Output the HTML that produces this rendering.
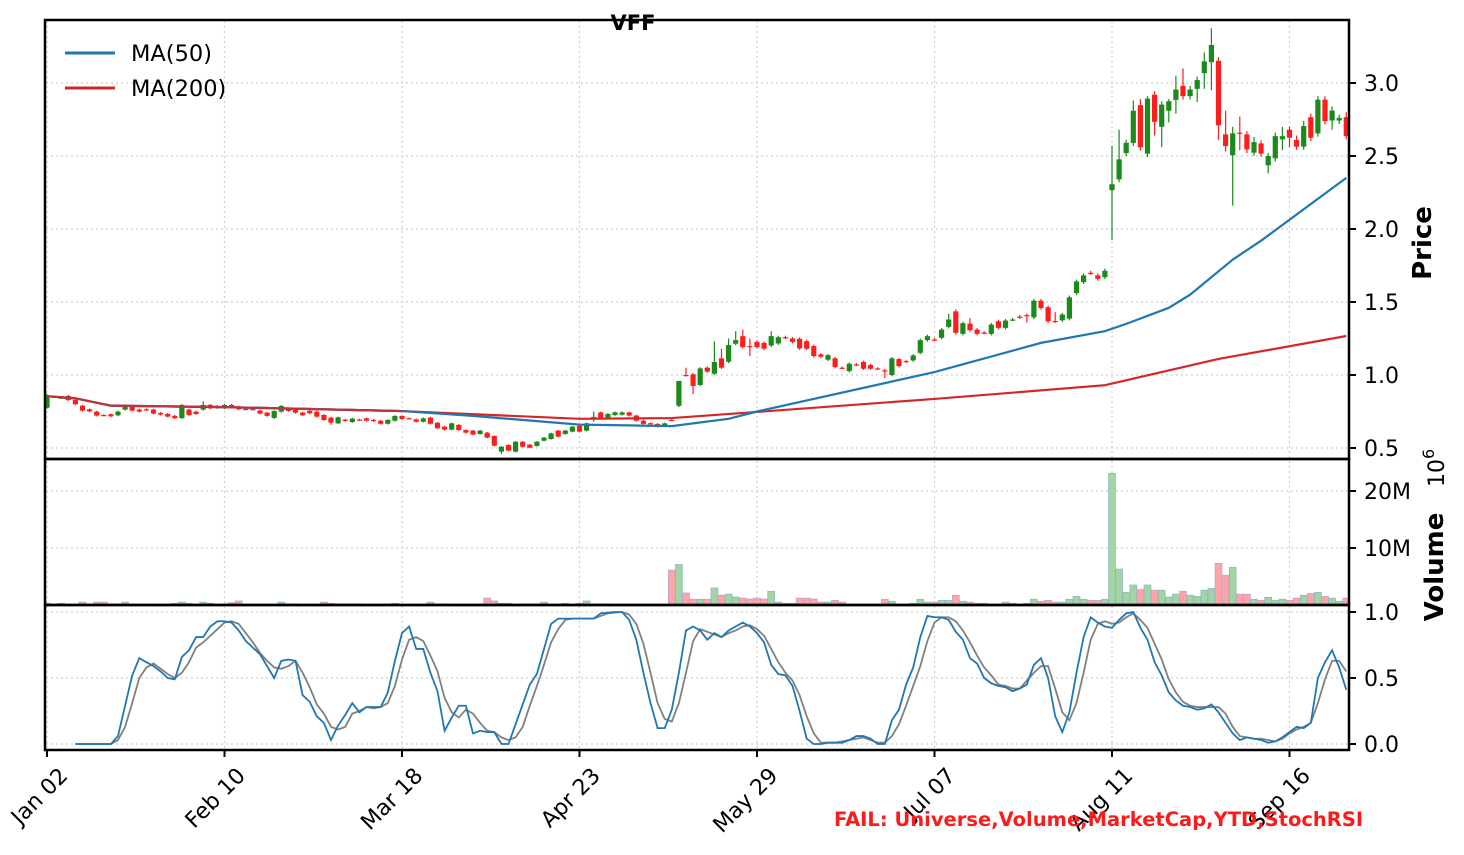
<!DOCTYPE html>
<html><head><meta charset="utf-8"><style>
html,body{margin:0;padding:0;background:#fff;}
svg{display:block;font-family:"DejaVu Sans","Liberation Sans",sans-serif;}
</style></head><body>
<svg id="chart" width="1464" height="855" viewBox="0 0 1464 855" xmlns="http://www.w3.org/2000/svg">
<defs>
<clipPath id="cpMain"><rect x="46" y="21" width="1302" height="437"/></clipPath>
<clipPath id="cpVol"><rect x="46" y="460" width="1302" height="144"/></clipPath>
<clipPath id="cpSto"><rect x="46" y="606" width="1302" height="143"/></clipPath>
</defs>
<g id="grid"></g>
<g id="vol" clip-path="url(#cpVol)"></g>
<g id="candles" clip-path="url(#cpMain)"></g>
<g id="mas" clip-path="url(#cpMain)"></g>
<g id="stoch" clip-path="url(#cpSto)"></g>
<g id="axes"></g>
<text x="633" y="30" text-anchor="middle" font-size="21" font-weight="bold">VFF</text>
<g>
  <line x1="65" y1="53" x2="115" y2="53" stroke="#1f77b4" stroke-width="3"/>
  <text x="131" y="61" font-size="22.5">MA(50)</text>
  <line x1="65" y1="88" x2="115" y2="88" stroke="#d62728" stroke-width="3"/>
  <text x="131" y="96" font-size="22.5">MA(200)</text>
</g>
<text transform="translate(1431,243) rotate(-90)" text-anchor="middle" font-size="26" font-weight="bold">Price</text>
<text transform="translate(1443,567) rotate(-90)" text-anchor="middle" font-size="26" font-weight="bold">Volume</text>
<text transform="translate(1444,487) rotate(-90)" font-size="22">10<tspan dy="-10" font-size="16">6</tspan></text>
<text x="834" y="826" font-size="19.5" font-weight="bold" fill="#ff1a1a">FAIL: Universe,Volume,MarketCap,YTD,StochRSI</text>
</svg>
<script>
const opens = [.776,.850,.843,.857,.829,.790,.765,.749,.726,.731,.724,.763,.786,.763,.765,.763,.740,.733,.720,.704,.763,.749,.763,.795,.774,.772,.795,.784,.767,.767,.756,.742,.706,.749,.768,.765,.742,.754,.749,.726,.708,.669,.694,.678,.695,.703,.692,.687,.666,.687,.719,.704,.696,.680,.708,.673,.646,.626,.658,.623,.619,.596,.605,.582,.475,.521,.475,.543,.523,.514,.550,.562,.619,.596,.612,.651,.619,.710,.744,.708,.726,.728,.744,.722,.687,.670,.665,.651,.692,.789,1.0,1.005,.932,1.05,1.009,1.114,1.091,1.214,1.266,1.198,1.227,1.22,1.202,1.216,1.259,1.25,1.248,1.232,1.198,1.141,1.105,1.114,1.05,1.027,1.073,1.089,1.068,1.045,1.032,1.0,1.109,1.095,1.10,1.152,1.239,1.243,1.255,1.33,1.436,1.282,1.352,1.311,1.29,1.282,1.368,1.323,1.38,1.4,1.41,1.395,1.509,1.464,1.37,1.375,1.386,1.561,1.636,1.7,1.682,1.67,2.266,2.34,2.52,2.59,2.848,2.516,2.92,2.70,2.81,2.884,2.98,2.91,2.96,3.068,3.143,3.152,2.648,2.505,2.66,2.648,2.523,2.586,2.436,2.484,2.614,2.68,2.61,2.564,2.766,2.655,2.886,2.743,2.743,2.766];
const closes = [.851,.852,.845,.829,.800,.756,.751,.722,.724,.717,.749,.793,.756,.749,.760,.736,.729,.715,.704,.795,.726,.733,.795,.772,.788,.795,.784,.765,.767,.765,.736,.720,.753,.788,.754,.742,.724,.738,.715,.692,.674,.710,.685,.701,.690,.687,.685,.666,.692,.719,.699,.703,.680,.703,.666,.635,.626,.669,.623,.605,.592,.619,.571,.516,.509,.482,.543,.509,.502,.543,.571,.600,.578,.619,.646,.612,.669,.713,.703,.733,.744,.744,.722,.687,.665,.668,.646,.669,.690,.959,.998,.925,1.045,1.023,1.089,1.05,1.205,1.239,1.191,1.195,1.191,1.18,1.266,1.259,1.255,1.227,1.182,1.18,1.13,1.125,1.136,1.055,1.048,1.077,1.07,1.043,1.043,1.043,1.03,1.114,1.061,1.093,1.134,1.239,1.266,1.241,1.311,1.38,1.289,1.355,1.307,1.282,1.289,1.345,1.323,1.373,1.38,1.395,1.408,1.509,1.459,1.368,1.368,1.414,1.532,1.641,1.682,1.698,1.659,1.714,2.307,2.477,2.59,2.81,2.56,2.893,2.734,2.852,2.875,2.955,2.91,2.955,3.02,3.148,3.26,2.71,2.568,2.655,2.655,2.545,2.595,2.516,2.5,2.636,2.636,2.625,2.564,2.705,2.625,2.886,2.739,2.811,2.761,2.636];
const wickHigh = {0:.87,19:.80,22:.82,77:.75,89:.96,90:1.05,94:1.23,95:1.18,96:1.25,97:1.30,98:1.31,99:1.25,102:1.30,127:1.42,128:1.45,130:1.39,142:1.43,150:2.57,151:2.68,153:2.88,154:2.89,155:2.91,158:2.89,159:3.05,160:3.1,163:3.21,164:3.375,166:2.81,167:2.7,168:2.77,170:2.63,173:2.66,174:2.70,176:2.64,177:2.74,178:2.79,179:2.91,181:2.84,183:2.8};
const wickLow = {19:.70,32:.70,40:.66,64:.46,66:.47,77:.68,89:.78,91:.87,99:1.13,118:.98,138:1.36,150:1.925,156:2.64,157:2.56,158:2.73,159:2.79,162:2.87,163:2.96,164:2.95,165:2.61,166:2.53,167:2.16,168:2.54,169:2.52,172:2.38,174:2.54,175:2.56,181:2.68,182:2.72};
const volumes = [.3,.15,.3,.1,.1,.5,.2,.5,.5,.2,.2,.5,.15,.05,.05,.15,.05,.15,.3,.5,.3,.05,.5,.3,.05,.2,.4,.7,.05,.05,.05,.05,.05,.5,.2,.2,.05,.05,.15,.5,.3,.2,.2,.2,.2,.05,.15,.15,.15,.3,.05,.05,.05,.15,.5,.2,.2,.05,.15,.15,.15,.15,1.2,.7,.3,.3,.05,.2,.2,.2,.5,.05,.05,.3,.05,.3,.7,.2,.2,.2,.1,.05,.1,.05,.05,.05,.05,.05,6.1,7.1,2.1,1.0,1.0,1.0,3.0,1.7,1.9,1.4,1.2,1.05,1.2,1.05,2.4,.5,.3,.3,1.2,1.2,1.05,.5,.5,.8,.5,.1,.1,.1,.1,.1,1.0,.65,.1,.1,.3,1.0,.5,.5,.8,.8,1.7,.65,.5,.3,.3,.1,.1,.5,.3,.1,.3,1.0,.65,.8,.5,.5,1.0,1.5,1.0,.8,.8,1.0,23.1,6.3,2.2,3.5,2.7,3.5,2.6,2.6,1.4,1.9,2.4,1.7,1.5,2.6,2.9,7.3,5.2,6.6,1.9,1.9,1.0,.8,1.35,.8,1.0,.8,1.2,1.7,2.0,2.2,1.5,1.2,.65,1.2];
const ma50Bars = [0,4,9,25,50,60,75,88,96,100,125,140,149,152,158,161,167,171,183];
const ma50Vals = [.855,.84,.79,.78,.753,.72,.66,.65,.70,.75,1.02,1.22,1.30,1.35,1.46,1.55,1.79,1.92,2.35];
const ma200Bars = [0,4,9,25,50,75,88,100,125,149,165,183];
const ma200Vals = [.855,.84,.79,.78,.753,.70,.705,.747,.836,.93,1.11,1.267];
const stochStart = 4;
const stochK = [0,0,0,0,0,0,.06,.29,.52,.65,
.62,.59,.55,.50,.49,.66,.71,.81,.81,.89,
.93,.93,.92,.86,.78,.73,.68,.59,.50,.63,
.64,.63,.37,.32,.21,.16,.03,.14,.22,.31,
.24,.28,.28,.28,.39,.63,.84,.89,.72,.72,
.54,.40,.10,.20,.29,.29,.08,.10,.09,.09,
0,0,.15,.30,.45,.53,.72,.91,.95,.95,
.95,.95,.95,.95,.99,.995,1,1,.94,.79,
.54,.31,.12,.12,.26,.54,.86,.89,.86,.79,
.84,.81,.86,.89,.92,.89,.84,.77,.60,.53,
.52,.44,.25,.04,0,0,.01,.01,.01,.03,
.06,.06,.04,0,0,.18,.26,.45,.58,.81,
.97,.96,.96,.94,.85,.79,.65,.61,.50,.46,
.44,.43,.40,.42,.45,.60,.65,.50,.21,.09,
.24,.54,.81,.96,.92,.89,.88,.94,.99,1,
.88,.79,.62,.52,.39,.33,.29,.28,.26,.27,
.30,.24,.16,.08,.03,.05,.04,.03,.01,.02,
.05,.09,.13,.12,.16,.50,.62,.71,.58,.41];
const stochD = [0,0,0,0,0,0,.03,.13,.31,.50,
.58,.61,.57,.53,.50,.54,.62,.73,.77,.82,
.87,.92,.93,.91,.84,.77,.69,.63,.58,.57,
.59,.63,.54,.43,.30,.23,.13,.11,.13,.23,
.25,.28,.27,.28,.31,.44,.64,.79,.81,.78,
.67,.55,.35,.24,.20,.26,.23,.16,.10,.09,
.05,.03,.05,.13,.29,.44,.60,.77,.87,.94,
.95,.95,.95,.95,.97,.99,.995,1,.98,.91,
.76,.54,.31,.19,.17,.31,.54,.78,.87,.85,
.83,.81,.84,.86,.89,.90,.87,.82,.72,.62,
.54,.48,.37,.21,.08,.01,.01,.01,.02,.03,
.04,.05,.03,.01,.01,.06,.15,.29,.44,.59,
.78,.92,.96,.96,.93,.86,.77,.67,.58,.52,
.45,.44,.42,.42,.48,.54,.59,.59,.42,.24,
.18,.31,.54,.79,.91,.93,.91,.92,.96,.99,
.94,.88,.76,.64,.49,.39,.32,.29,.28,.28,
.28,.28,.23,.13,.06,.05,.04,.04,.03,.02,
.04,.08,.11,.13,.16,.31,.49,.63,.63,.55];
const xTickBars = [0,25,50,75,100,125,150,175];
const xTickLabels = ["Jan 02","Feb 10","Mar 18","Apr 23","May 29","Jul 07","Aug 11","Sep 16"];
const priceTicks = [0.5,1.0,1.5,2.0,2.5,3.0];
const volTicks = [10,20];
const volTickLabels = ["10M","20M"];
const stochTicks = [0,0.5,1.0];

const NS = "http://www.w3.org/2000/svg";
const xOf = i => 47 + i*7.1;
const yP = p => 448 - (p-0.5)*146;
const yV = m => 605 - m*5.7;
const yS = v => 744 - v*132;
function mk(tag, attrs, parent){const e=document.createElementNS(NS,tag);for(const k in attrs)e.setAttribute(k,attrs[k]);parent.appendChild(e);return e;}
const G = id => document.getElementById(id);

const grid = G('grid');
xTickBars.forEach(b=>{
  const l = mk('line',{x1:xOf(b),x2:xOf(b),y1:21,y2:749,stroke:'#cfcfcf','stroke-width':1.2,'stroke-dasharray':'2,3'},grid);
  
  
});
priceTicks.forEach(p=>{
  const l = mk('line',{x1:46,x2:1348,y1:yP(p),y2:yP(p),stroke:'#cfcfcf','stroke-width':1.2,'stroke-dasharray':'2,3'},grid);
  
  
});
volTicks.forEach(v=>{
  const l = mk('line',{x1:46,x2:1348,y1:yV(v),y2:yV(v),stroke:'#cfcfcf','stroke-width':1.2,'stroke-dasharray':'2,3'},grid);
  
  
});
stochTicks.forEach(v=>{
  const l = mk('line',{x1:46,x2:1348,y1:yS(v),y2:yS(v),stroke:'#cfcfcf','stroke-width':1.2,'stroke-dasharray':'2,3'},grid);
  
  
});

const vg = G('vol');
volumes.forEach((v,i)=>{
  const up = closes[i] >= opens[i];
  const r = mk('rect',{x:xOf(i)-3.4,y:yV(v),width:6.8,height:605-yV(v),fill:up?'#a3d4a3':'#ffa3a8',stroke:up?'#8fb8c0':'#b8a8c8','stroke-width':0.8},vg);
  
  
});

const cg = G('candles');
opens.forEach((o,i)=>{
  const c = closes[i];
  const up = c >= o;
  const col = up ? '#1a8a1a' : '#ff1c1c';
  const top = Math.max(o,c), bot = Math.min(o,c);
  const pad = top*0.008;
  const hi = wickHigh[i] !== undefined ? wickHigh[i] : top + pad;
  const lo = wickLow[i] !== undefined ? wickLow[i] : bot - pad;
  const x = xOf(i);
  const w = mk('line',{x1:x,x2:x,y1:yP(hi),y2:yP(lo),stroke:col,'stroke-width':1.2},cg);
  
  
  const h = Math.max(1.2, yP(bot)-yP(top));
  const b = mk('rect',{x:x-2.6,y:yP(top),width:5.2,height:h,fill:col},cg);
  
  
});

const mg = G('mas');
const p200 = mk('polyline',{points:ma200Bars.map((b,k)=>xOf(b)+','+yP(ma200Vals[k])).join(' '),fill:'none',stroke:'#d62728','stroke-width':2.2},mg);


const p50 = mk('polyline',{points:ma50Bars.map((b,k)=>xOf(b)+','+yP(ma50Vals[k])).join(' '),fill:'none',stroke:'#1f77b4','stroke-width':2.2},mg);


const p200b = mk('polyline',{points:ma200Bars.slice(0,5).map((b,k)=>xOf(b)+','+yP(ma200Vals[k])).join(' '),fill:'none',stroke:'#d62728','stroke-width':2.2,'stroke-opacity':0.85},mg);



const sg = G('stoch');
const dl = mk('polyline',{points:stochD.map((v,k)=>xOf(k+stochStart)+','+yS(v)).join(' '),fill:'none',stroke:'#808080','stroke-width':1.8},sg);


const kl = mk('polyline',{points:stochK.map((v,k)=>xOf(k+stochStart)+','+yS(v)).join(' '),fill:'none',stroke:'#1f77b4','stroke-width':1.8},sg);



const ax = G('axes');
[[20,459],[459,605],[605,750]].forEach(([t,b],k)=>{
  const r = mk('rect',{x:45,y:t,width:1304,height:b-t,fill:'none',stroke:'#000','stroke-width':2.5},ax);
  
  
});
priceTicks.forEach(p=>{
  mk('line',{x1:1349,x2:1356,y1:yP(p),y2:yP(p),stroke:'#000','stroke-width':2},ax);
  const t = mk('text',{x:1364,y:yP(p)+8,'font-size':22},ax);
  t.textContent = p.toFixed(1);
  
  
});
volTicks.forEach((v,k)=>{
  mk('line',{x1:1349,x2:1356,y1:yV(v),y2:yV(v),stroke:'#000','stroke-width':2},ax);
  const t = mk('text',{x:1364,y:yV(v)+8,'font-size':22},ax);
  t.textContent = volTickLabels[k];
  
  
});
stochTicks.forEach(v=>{
  mk('line',{x1:1349,x2:1356,y1:yS(v),y2:yS(v),stroke:'#000','stroke-width':2},ax);
  const t = mk('text',{x:1364,y:yS(v)+8,'font-size':22},ax);
  t.textContent = v.toFixed(1);
  
  
});
xTickBars.forEach((b,k)=>{
  const x = xOf(b);
  mk('line',{x1:x,x2:x,y1:750,y2:757,stroke:'#000','stroke-width':2},ax);
  const t = mk('text',{transform:'translate('+(x+22)+',777) rotate(-45)','text-anchor':'end','font-size':22},ax);
  t.textContent = xTickLabels[k];
  
  
});
</script>
</body></html>
